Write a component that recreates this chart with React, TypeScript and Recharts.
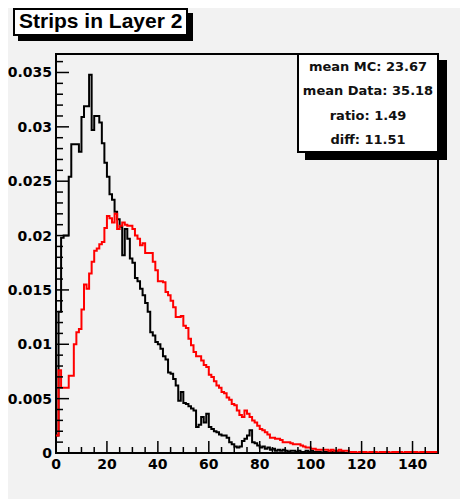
import React from "react"
import { ComposedChart, Line, XAxis, YAxis, ReferenceArea } from "recharts"

// Normalised strip multiplicity, one entry per unit-wide bin from 0 to 150
const mcValues = [
  0.0016, 0.013, 0.0198, 0.02, 0.02, 0.0254, 0.0284, 0.0284, 0.0284, 0.0277,
  0.0309, 0.0319, 0.0319, 0.0348, 0.0297, 0.031, 0.031, 0.0304, 0.0285, 0.0267,
  0.0254, 0.0238, 0.0233, 0.0222, 0.0215, 0.0208, 0.0182, 0.0206, 0.0197, 0.0179,
  0.0175, 0.0161, 0.0158, 0.0151, 0.0145, 0.0138, 0.013, 0.0111, 0.0108, 0.0102,
  0.01, 0.0096, 0.0089, 0.0086, 0.0074, 0.0073, 0.0068, 0.0062, 0.0048, 0.0056,
  0.0046, 0.0045, 0.0043, 0.0041, 0.0039, 0.0024, 0.0026, 0.0033, 0.0028, 0.0036,
  0.0024, 0.0022, 0.002, 0.0019, 0.0017, 0.0016, 0.0016, 0.0014, 0.001, 0.0008,
  0.0006, 0.0005, 0.0006, 0.0011, 0.0013, 0.0016, 0.0021, 0.001, 0.0009, 0.0007,
  0.0005, 0.0006, 0.0004, 0.0005, 0.0003, 0.0004, 0.0002, 0.0003, 0.0002, 0.0003,
  0.0002, 0.0001, 0.0002, 0.0002, 0.0001, 0.0002, 0.0001, 0.0001, 0.0002, 0.0001,
  0.0002, 0.0001, 0.0001, 0.0001, 0, 0.0001, 0.0001, 0, 0.0001, 0,
  0.0001, 0, 0.0001, 0, 0, 0, 0, 0, 0, 0,
  0, 0, 0, 0, 0, 0, 0, 0, 0, 0,
  0, 0, 0, 0, 0, 0, 0, 0, 0, 0,
  0, 0, 0, 0, 0, 0, 0, 0, 0, 0,
]

const dataValues = [
  0.0016, 0.0076, 0.006, 0.006, 0.006, 0.0071, 0.0071, 0.01, 0.0111, 0.0114,
  0.0132, 0.0155, 0.0151, 0.0165, 0.0176, 0.0186, 0.0188, 0.0192, 0.0194, 0.0207,
  0.0218, 0.0216, 0.0212, 0.022, 0.0206, 0.0209, 0.0212, 0.021, 0.0209, 0.0209,
  0.0206, 0.02, 0.0197, 0.0191, 0.0193, 0.0184, 0.0184, 0.0184, 0.0176, 0.0168,
  0.0158, 0.0158, 0.0157, 0.0148, 0.0145, 0.014, 0.0134, 0.0125, 0.0125, 0.0126,
  0.0117, 0.0115, 0.0105, 0.0099, 0.0093, 0.0089, 0.0089, 0.0085, 0.0081, 0.0079,
  0.0072, 0.007, 0.0066, 0.0062, 0.006, 0.0056, 0.0055, 0.0051, 0.0049, 0.0045,
  0.0044, 0.0039, 0.0035, 0.0033, 0.0039, 0.0036, 0.0033, 0.003, 0.0028, 0.0025,
  0.0022, 0.0021, 0.0019, 0.0017, 0.0014, 0.0014, 0.0013, 0.0013, 0.0012, 0.001,
  0.001, 0.001, 0.0009, 0.0008, 0.0008, 0.0008, 0.0007, 0.0006, 0.0005, 0.0005,
  0.0004, 0.0004, 0.0003, 0.0003, 0.0003, 0.0003, 0.0003, 0.0002, 0.0003, 0.0002,
  0.0002, 0.0003, 0.0002, 0.0002, 0.0002, 0.0001, 0.0001, 0.0001, 0, 0.0001,
  0.0001, 0.0001, 0, 0.0001, 0.0001, 0.0001, 0, 0.0001, 0.0001, 0.0001,
  0.0001, 0, 0.0001, 0.0001, 0.0001, 0.0001, 0, 0.0001, 0.0001, 0.0001,
  0.0001, 0.0001, 0, 0.0001, 0.0001, 0.0001, 0.0001, 0.0001, 0.0001, 0.0001,
]

const xTickLabels = ["0", "20", "40", "60", "80", "100", "120", "140"]
const yTickLabels = ["0", "0.005", "0.01", "0.015", "0.02", "0.025", "0.03", "0.035"]
const statLines = ["mean MC: 23.67", "mean Data: 35.18", "ratio: 1.49", "diff: 11.51"]
const title = "Strips in Layer 2"

const X_MAX = 150
const Y_MAX = 0.0367

// stepAfter needs a closing point at the upper edge of the last bin
const rows = mcValues.map((mc, i) => ({ x: i, mc, data: dataValues[i] }))
rows.push({ x: X_MAX, mc: mcValues[mcValues.length - 1], data: dataValues[dataValues.length - 1] })

const xTicks = Array.from({ length: 31 }, (_, i) => i * 5)
const yTicks = Array.from({ length: 37 }, (_, i) => i / 1000)

const tickFont = "'DejaVu Sans', sans-serif"
const bg = "#f2f2f2"

// ticks point into the frame, ROOT style
const XTick = (props: any) => {
  const { x, y, payload } = props
  const v = payload.value
  const major = v % 20 === 0
  return (
    <g>
      <line x1={x} x2={x} y1={y} y2={y - (major ? 12 : 6)} stroke="#000" strokeWidth={1.5} />
      {major && (
        <text x={x} y={y + 15.5} textAnchor="middle" fontFamily={tickFont} fontWeight="bold" fontSize={14} fill="#000">
          {xTickLabels[v / 20]}
        </text>
      )}
    </g>
  )
}

const YTick = (props: any) => {
  const { x, y, payload } = props
  const k = Math.round(payload.value * 1000)
  const major = k % 5 === 0
  return (
    <g>
      <line x1={x} x2={x + (major ? 13 : 7)} y1={y} y2={y} stroke="#000" strokeWidth={1.5} />
      {major && (
        <text x={x - 4} y={y + 5} textAnchor="end" fontFamily={tickFont} fontWeight="bold" fontSize={14} fill="#000">
          {yTickLabels[k / 5]}
        </text>
      )}
    </g>
  )
}

export default function App() {
  return (
    <div style={{ position: "relative", width: 460, height: 496, marginTop: -5, background: bg }}>
      <ComposedChart
        width={460}
        height={496}
        data={rows}
        margin={{ top: 51, right: 30, bottom: 16, left: 0 }}
      >
        <XAxis
          dataKey="x"
          type="number"
          domain={[0, X_MAX]}
          allowDataOverflow
          ticks={xTicks}
          interval={0}
          height={30}
          tickSize={0}
          tickMargin={0}
          tickLine={false}
          axisLine={false}
          tick={(p: any) => <XTick {...p} />}
        />
        <YAxis
          type="number"
          domain={[0, Y_MAX]}
          allowDataOverflow
          ticks={yTicks}
          interval={0}
          width={48}
          tickSize={0}
          tickMargin={0}
          tickLine={false}
          axisLine={false}
          tick={(p: any) => <YTick {...p} />}
        />
        <ReferenceArea x1={0} x2={X_MAX} y1={0} y2={Y_MAX} fill="none" stroke="#000" strokeWidth={2} ifOverflow="visible" />
        <Line type="stepAfter" dataKey="mc" stroke="#000" strokeWidth={2} dot={false} isAnimationActive={false} />
        <Line type="stepAfter" dataKey="data" stroke="#ff0000" strokeWidth={2} dot={false} isAnimationActive={false} />
      </ComposedChart>

      <div
        style={{
          position: "absolute",
          left: 5,
          top: 5,
          height: 28,
          boxSizing: "border-box",
          border: "2px solid #000",
          background: "#fff",
          boxShadow: "5px 5px 0 #000",
          padding: "0 4px",
          fontFamily: "'Liberation Sans', Arial, sans-serif",
          fontWeight: "bold",
          fontSize: 21,
          lineHeight: "22px",
          color: "#000",
          whiteSpace: "nowrap",
        }}
      >
        {title}
      </div>

      <div
        style={{
          position: "absolute",
          left: 289,
          top: 50,
          width: 142,
          height: 100,
          boxSizing: "border-box",
          border: "2px solid #000",
          background: "#fff",
          boxShadow: "8px 7px 0 #000",
          fontFamily: tickFont,
          fontWeight: "bold",
          fontSize: 13,
          lineHeight: "24.3px",
          textAlign: "center",
          color: "#111",
        }}
      >
        {statLines.map((s) => (
          <div key={s}>{s}</div>
        ))}
      </div>
    </div>
  )
}
